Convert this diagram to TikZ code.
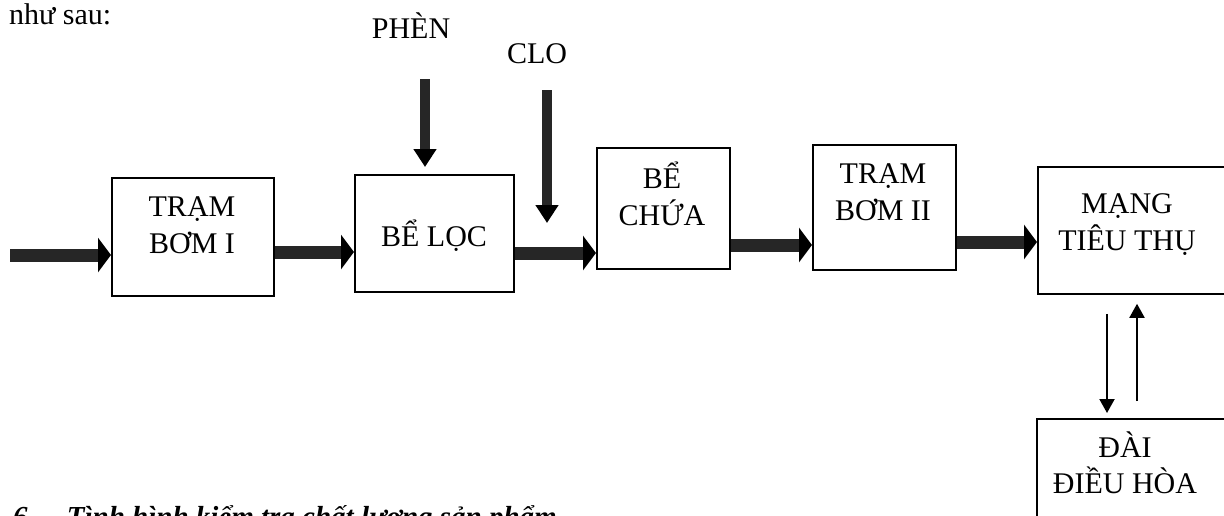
\documentclass[tikz,border=0pt]{standalone}
\usepackage{fontspec}
\setmainfont{Liberation Serif}
\usetikzlibrary{arrows.meta}

\tikzset{
  box/.style={draw, line width=1.8pt, inner sep=0pt, anchor=north west},
  txt/.style={inner sep=0pt, text height=20pt, anchor=north, align=center,
              font=\fontsize{30}{37}\selectfont},
  % two-line labels: the box baseline sits on the last line
  txttwo/.style={txt, text height=57pt},
  flow/.style={draw=black!85, line width=13pt,
               -{Triangle[length=13pt,width=34pt,color=black]}},
  dose/.style={draw=black!85, line width=10pt,
               -{Triangle[length=18pt,width=22pt,color=black]}},
  link/.style={draw=black, line width=2pt,
               -{Triangle[length=14pt,width=15pt]}}
}

\begin{document}
\begin{tikzpicture}[x=1pt,y=-1pt]
\useasboundingbox (0,0) rectangle (1224,515);
\clip (0,0) rectangle (1224,515);

% treatment units
\node[box, minimum width=162pt, minimum height=118pt] (tb1)  at (111,177) {};
\node[box, minimum width=159pt, minimum height=117pt] (loc)  at (354,174) {};
\node[box, minimum width=133pt, minimum height=121pt] (chua) at (596,147) {};
\node[box, minimum width=143pt, minimum height=125pt] (tb2)  at (812,144) {};
\node[box, minimum width=230pt, minimum height=127pt] (mang) at (1037,166) {};
\node[box, minimum width=230pt, minimum height=140pt] (dai)  at (1036,418) {};

% box texts
\node[txttwo] (ttb1)  at (192,196) {TRẠM\\BƠM I};
\node[txt]    (tloc)  at (434,226) {BỂ LỌC};
\node[txttwo] (tchua) at (662,168) {BỂ\\CHỨA};
\node[txttwo] (ttb2)  at (883,163) {TRẠM\\BƠM II};
\node[txttwo] (tmang) at (1127,193) {MẠNG\\TIÊU THỤ};
\node[txttwo, font=\fontsize{30}{36}\selectfont, text height=56pt]
  (tdai) at (1125,437) {ĐÀI\\ĐIỀU HÒA};

% dosing labels and heading texts
\node[txt] (phen) at (411,18) {PHÈN};
\node[txt] (clo)  at (537,43) {CLO};
\node[txt, anchor=north west] (intro) at (9,4) {như sau:};
\node[txt, anchor=north west, font=\fontsize{29}{37}\selectfont\bfseries\itshape]
  (sec) at (13,506) {6.\hspace{32pt}Tình hình kiểm tra chất lượng sản phẩm};

% main water line
\coordinate (src) at (10,255);
\draw[flow] (src) -- (src -| tb1.west);
\draw[flow] (tb1.east |- 0,252) -- (loc.west |- 0,252);
\draw[flow] (loc.east |- 0,253) -- (chua.west |- 0,253);
\draw[flow] (chua.east |- 0,245) -- (tb2.west |- 0,245);
\draw[flow] (tb2.east |- 0,242) -- (mang.west |- 0,242);

% chemical dosing
\coordinate (phenTop) at (425,79);
\draw[dose, shorten >=7pt] (phenTop) -- (phenTop |- loc.north);
\coordinate (cloTop) at (547,90);
\coordinate (cloTip) at (547,223);
\draw[dose] (cloTop) -- (cloTip);

% exchange with the balancing tower
\draw[link, shorten <=19pt, shorten >=5pt] (mang.south -| 1107,0) -- (dai.north -| 1107,0);
\draw[link, shorten <=17pt, shorten >=9pt] (dai.north -| 1137,0) -- (mang.south -| 1137,0);
\end{tikzpicture}
\end{document}
